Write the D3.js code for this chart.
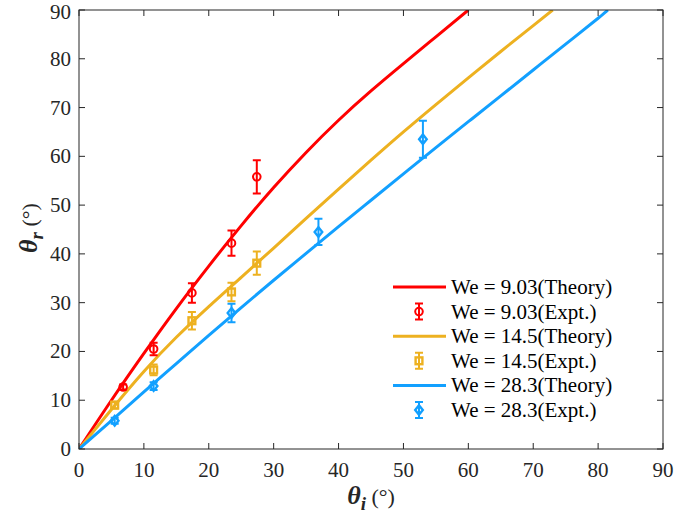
<!DOCTYPE html>
<html>
<head>
<meta charset="utf-8">
<title>theta r vs theta i</title>
<script src="https://d3js.org/d3.v7.min.js"></script>
<style>
  body { margin: 0; background: #fff; }
</style>
</head>
<body>
<div id="chart"></div>
<script>
// theory curves
var redTheoryX = [0, 5, 10, 15, 20, 25, 30, 35, 40, 45, 50, 55, 60];
var redTheoryY = [0, 10, 19.6, 28.8, 37.5, 45.8, 53.6, 60.8, 67.4, 73.4, 79.0, 84.5, 90];
var yelTheoryX = [0, 5, 10, 15, 20, 25, 30, 35, 40, 45, 50, 55, 60, 65, 70, 73];
var yelTheoryY = [0, 8.1, 15.9, 22.9, 29.2, 35.2, 41.2, 47.3, 53.3, 59.2, 65.0, 70.6, 76.1, 81.5, 86.8, 90];
var bluTheoryX = [0, 5, 10, 15, 20, 25, 30, 35, 40, 45, 50, 55, 60, 65, 70, 75, 80, 81.5];
var bluTheoryY = [0, 5.8, 11.7, 17.5, 23.3, 29.0, 34.6, 40.1, 45.6, 51.0, 56.4, 61.8, 67.1, 72.4, 77.7, 83.0, 88.3, 90];

// experiments
var redExpX = [6.8, 11.5, 17.4, 23.5, 27.4];
var redExpY = [12.7, 20.5, 32, 42.2, 55.8];
var redExpE = [0.5, 1.3, 2, 2.6, 3.4];
var yelExpX = [5.5, 11.5, 17.4, 23.5, 27.4];
var yelExpY = [9, 16.2, 26.3, 32.2, 38.1];
var yelExpE = [0.7, 1.1, 1.8, 1.9, 2.4];
var bluExpX = [5.5, 11.5, 23.5, 36.9, 53];
var bluExpY = [5.8, 12.9, 27.9, 44.5, 63.5];
var bluExpE = [0.6, 0.8, 1.9, 2.7, 3.8];

var ticks = [0, 10, 20, 30, 40, 50, 60, 70, 80, 90];
var legendLabels = ["We = 9.03(Theory)", "We = 9.03(Expt.)", "We = 14.5(Theory)",
                    "We = 14.5(Expt.)", "We = 28.3(Theory)", "We = 28.3(Expt.)"];

var RED = "#ff0000", YEL = "#edb120", BLU = "#12a0ff";
var FONT = "'Liberation Serif', 'Times New Roman', 'DejaVu Serif', serif";

var W = 675, H = 524;
var margin = {top: 10, right: 12, bottom: 75, left: 79};
var width = W - margin.left - margin.right,
    height = H - margin.top - margin.bottom;

var svg = d3.select("#chart").append("svg")
    .attr("width", W).attr("height", H)
    .attr("font-family", FONT);
var g = svg.append("g")
    .attr("transform", "translate(" + margin.left + "," + margin.top + ")");

var x = d3.scaleLinear().domain([0, 90]).range([0, width]);
var y = d3.scaleLinear().domain([0, 90]).range([height, 0]);

// clip so the curves stop at the box
g.append("clipPath").attr("id", "clip")
  .append("rect").attr("width", width).attr("height", height);

function zip(xs, ys) { return xs.map(function(v, i) { return [v, ys[i]]; }); }

var line = d3.line()
    .x(function(d) { return x(d[0]); })
    .y(function(d) { return y(d[1]); })
    .curve(d3.curveNatural);

var series = [
  {tx: redTheoryX, ty: redTheoryY, ex: redExpX, ey: redExpY, ee: redExpE, c: RED, m: "circle"},
  {tx: yelTheoryX, ty: yelTheoryY, ex: yelExpX, ey: yelExpY, ee: yelExpE, c: YEL, m: "square"},
  {tx: bluTheoryX, ty: bluTheoryY, ex: bluExpX, ey: bluExpY, ee: bluExpE, c: BLU, m: "diamond"}
];

function marker(sel, type, color) {
  if (type == "circle") {
    sel.append("circle").attr("r", 3.8)
      .attr("fill", "none").attr("stroke", color).attr("stroke-width", 2);
  } else if (type == "square") {
    sel.append("rect").attr("x", -3.4).attr("y", -3.4).attr("width", 6.8).attr("height", 6.8)
      .attr("fill", "none").attr("stroke", color).attr("stroke-width", 2.4);
  } else {
    sel.append("path").attr("d", "M0,-4.8L3.8,0L0,4.8L-3.8,0Z")
      .attr("fill", "none").attr("stroke", color).attr("stroke-width", 2.4);
  }
}

function errorBar(sel, color, hpx) {
  sel.append("path")
    .attr("d", "M0," + (-hpx) + "V" + hpx + "M-4," + (-hpx) + "H4M-4," + hpx + "H4")
    .attr("fill", "none").attr("stroke", color).attr("stroke-width", 2);
}

series.forEach(function(s) {
  g.append("path")
    .datum(zip(s.tx, s.ty))
    .attr("clip-path", "url(#clip)")
    .attr("fill", "none")
    .attr("stroke", s.c)
    .attr("stroke-width", 3)
    .attr("d", line);
});

series.forEach(function(s) {
  s.ex.forEach(function(v, i) {
    var pt = g.append("g")
      .attr("transform", "translate(" + x(v) + "," + y(s.ey[i]) + ")");
    errorBar(pt, s.c, y(0) - y(s.ee[i]));
    marker(pt, s.m, s.c);
  });
});

// axes box with inward ticks on all sides
var ax = "#262626";
g.append("rect").attr("width", width).attr("height", height)
  .attr("fill", "none").attr("stroke", ax).attr("stroke-width", 1);

ticks.forEach(function(t) {
  g.append("line").attr("x1", x(t)).attr("x2", x(t)).attr("y1", height).attr("y2", height - 6)
    .attr("stroke", ax);
  g.append("line").attr("x1", x(t)).attr("x2", x(t)).attr("y1", 0).attr("y2", 6)
    .attr("stroke", ax);
  g.append("line").attr("y1", y(t)).attr("y2", y(t)).attr("x1", 0).attr("x2", 6)
    .attr("stroke", ax);
  g.append("line").attr("y1", y(t)).attr("y2", y(t)).attr("x1", width).attr("x2", width - 6)
    .attr("stroke", ax);
  g.append("text").attr("x", x(t)).attr("y", height + 28)
    .attr("text-anchor", "middle").attr("font-size", 21).attr("fill", ax).text(t);
  // top label nudged down a touch so it stays inside the page
  g.append("text").attr("x", -8).attr("y", y(t) + (t == 90 ? 9 : 7))
    .attr("text-anchor", "end").attr("font-size", 21).attr("fill", ax).text(t);
});

// axis titles
var xt = svg.append("text")
  .attr("x", 371).attr("y", 504).attr("text-anchor", "middle")
  .attr("font-size", 22).attr("fill", ax);
xt.append("tspan").attr("font-weight", "bold").attr("font-style", "italic")
  .attr("font-size", 26).text("θ");
xt.append("tspan").attr("font-weight", "bold").attr("font-style", "italic")
  .attr("font-size", 19).attr("dy", 6).text("i");
xt.append("tspan").attr("dy", -6).text(" (°)");

var yt = svg.append("text")
  .attr("transform", "translate(37,228) rotate(-90)")
  .attr("text-anchor", "middle").attr("font-size", 22).attr("fill", ax);
yt.append("tspan").attr("font-weight", "bold").attr("font-style", "italic")
  .attr("font-size", 26).text("θ");
yt.append("tspan").attr("font-weight", "bold").attr("font-style", "italic")
  .attr("font-size", 19).attr("dy", 6).text("r");
yt.append("tspan").attr("dy", -6).text(" (°)");

// legend
var lg = svg.append("g").attr("transform", "translate(393,287)");
var rowH = 24.6;
legendLabels.forEach(function(lab, i) {
  var s = series[Math.floor(i / 2)];
  var row = lg.append("g").attr("transform", "translate(0," + (i * rowH) + ")");
  if (i % 2 == 0) {
    row.append("line").attr("x1", 0).attr("x2", 53).attr("y1", 0).attr("y2", 0)
      .attr("stroke", s.c).attr("stroke-width", 3);
  } else {
    var m = row.append("g").attr("transform", "translate(26,0)");
    errorBar(m, s.c, 8);
    marker(m, s.m, s.c);
  }
  row.append("text").attr("x", 58).attr("y", 7).attr("font-size", 21)
    .attr("fill", "#000").text(lab);
});
</script>
</body>
</html>
